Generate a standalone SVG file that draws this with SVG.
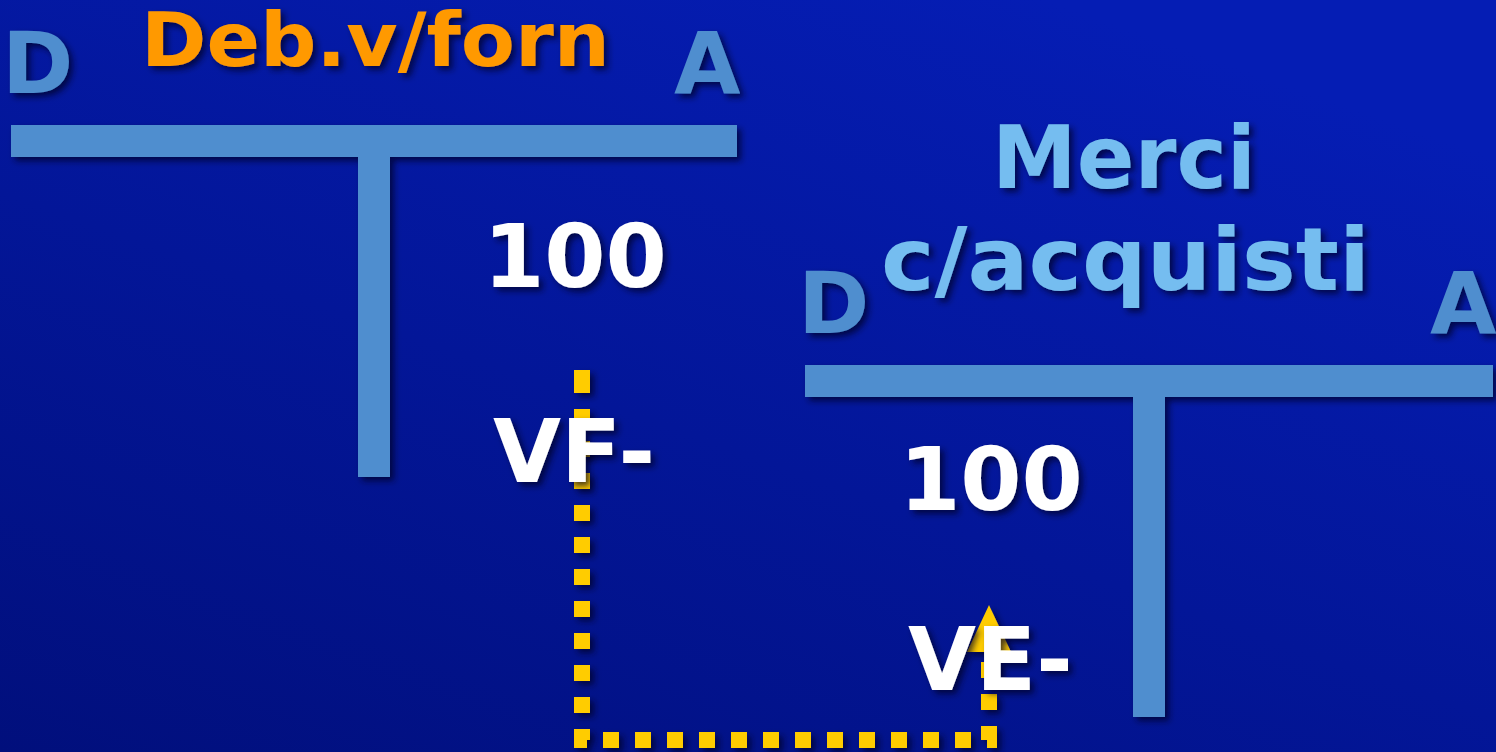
<svg xmlns="http://www.w3.org/2000/svg" width="1496" height="752" viewBox="0 0 1496 752">
<defs>
<linearGradient id="bg" x1="0" y1="1" x2="0.7" y2="0">
<stop offset="0" stop-color="#010f7c"/>
<stop offset="1" stop-color="#051db4"/>
</linearGradient>
<filter id="sh" x="-10%" y="-10%" width="130%" height="130%">
<feDropShadow dx="4" dy="4" stdDeviation="3" flood-color="#000020" flood-opacity="0.7"/>
</filter>
<style>
text{font-family:"DejaVu Sans","Verdana",sans-serif;font-weight:bold}
.bar{fill:#4f8ecf}
.da{fill:#4f8ecf;font-size:86px}
.num{fill:#ffffff;font-size:88px}
.dash{fill:none;stroke:#ffcc00;stroke-width:16;stroke-dasharray:16 16}
</style>
</defs>
<rect width="1496" height="752" fill="url(#bg)"/>
<g id="connectors" filter="url(#sh)">
<rect x="574" y="370" width="16" height="8" fill="#ffcc00"/>
<path class="dash" d="M582,377 V740 H989 V652"/>
<polygon points="989,605 1011,652 967,652" fill="#ffcc00"/>
</g>
<g id="account-debv-forn" filter="url(#sh)">
<rect class="bar" x="11" y="125" width="726" height="32"/>
<rect class="bar" x="358" y="157" width="32" height="320"/>
<text class="da" x="2" y="93">D</text>
<text class="da" x="674" y="93">A</text>
<text x="141" y="66" font-size="74" fill="#ff9900" textLength="469" lengthAdjust="spacingAndGlyphs">Deb.v/forn</text>
<text class="num" x="575" y="287" text-anchor="middle">100</text>
<text class="num" x="493" y="482">VF-</text>
</g>
<g id="account-merci" filter="url(#sh)">
<rect class="bar" x="805" y="365" width="688" height="32"/>
<rect class="bar" x="1133" y="397" width="32" height="320"/>
<text class="da" x="798" y="333">D</text>
<text class="da" x="1430" y="333">A</text>
<text x="992" y="188" font-size="88" fill="#75bdf0" textLength="264" lengthAdjust="spacingAndGlyphs">Merci</text>
<text x="881" y="290" font-size="88" fill="#75bdf0" textLength="489" lengthAdjust="spacingAndGlyphs">c/acquisti</text>
<text class="num" x="991" y="510" text-anchor="middle">100</text>
<text class="num" x="908" y="690">VE-</text>
</g>
</svg>
